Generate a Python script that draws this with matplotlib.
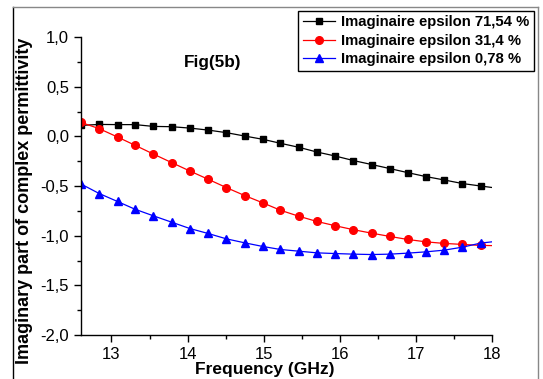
import matplotlib.pyplot as plt
from matplotlib.ticker import MultipleLocator, FuncFormatter
from matplotlib.lines import Line2D

plt.rcParams['font.family'] = ['Liberation Sans', 'DejaVu Sans']

# frequency points (GHz), last one is only the end of the curve
freq = [12.60, 12.84, 13.08, 13.31, 13.55, 13.79, 14.03, 14.27, 14.51, 14.75,
        14.99, 15.22, 15.46, 15.70, 15.94, 16.18, 16.42, 16.66, 16.89, 17.13,
        17.37, 17.61, 17.85, 18.00]

eps_7154 = [0.11, 0.12, 0.118, 0.118, 0.10, 0.097, 0.083, 0.063, 0.037, 0.003,
            -0.03, -0.07, -0.11, -0.158, -0.198, -0.244, -0.284, -0.325, -0.365,
            -0.405, -0.439, -0.475, -0.50, -0.515]
eps_314 = [0.14, 0.077, -0.007, -0.09, -0.178, -0.264, -0.349, -0.432, -0.516,
           -0.596, -0.67, -0.744, -0.804, -0.857, -0.90, -0.94, -0.975, -1.008,
           -1.038, -1.062, -1.078, -1.088, -1.098, -1.10]
eps_078 = [-0.48, -0.576, -0.656, -0.734, -0.80, -0.864, -0.928, -0.978, -1.032,
           -1.072, -1.109, -1.139, -1.156, -1.173, -1.18, -1.186, -1.19, -1.186,
           -1.176, -1.163, -1.146, -1.116, -1.075, -1.062]

labels = ["Imaginaire epsilon 71,54 %", "Imaginaire epsilon 31,4 %",
          "Imaginaire epsilon 0,78 %"]
series = [eps_7154, eps_314, eps_078]
colors = ["black", "red", "blue"]
markers = ["s", "o", "^"]
msizes = [4.5, 5.5, 5.5]

fig = plt.figure(figsize=(5.43, 3.79), dpi=100)
ax = fig.add_axes([81/543, 1-335/379, 411/543, 298/379])

for i in range(3):
    ax.plot(freq, series[i], color=colors[i], linewidth=0.9,
            marker=markers[i], markersize=msizes[i], markevery=slice(0, 23),
            label=labels[i])

ax.set_xlim(12.6, 18)
ax.set_ylim(-2.0, 1.0)
ax.xaxis.set_major_locator(MultipleLocator(1))
ax.xaxis.set_minor_locator(MultipleLocator(0.5))
ax.yaxis.set_major_locator(MultipleLocator(0.5))
ax.yaxis.set_minor_locator(MultipleLocator(0.25))
ax.xaxis.set_major_formatter(FuncFormatter(lambda v, p: "%d" % v))
ax.yaxis.set_major_formatter(FuncFormatter(lambda v, p: ("%.1f" % v).replace(".", ",")))
ax.tick_params(which="major", direction="out", length=5, width=1, labelsize=12)
ax.tick_params(which="minor", direction="out", length=3, width=1)

for s in ["top", "right"]:
    ax.spines[s].set_visible(False)
for s in ["left", "bottom"]:
    ax.spines[s].set_linewidth(1)

ax.set_xlabel("Frequency (GHz)", fontsize=12.5, fontweight="bold")
ax.set_ylabel("Imaginary part of complex permittivity", fontsize=13, fontweight="bold")
ax.xaxis.set_label_coords((265-81)/411, -(362-335)/298)
ax.yaxis.set_label_coords(-(81-33)/411, (335-201)/298)

ax.text((213-81)/411, (335-62)/298, "Fig(5b)", transform=ax.transAxes,
        ha="center", va="center", fontsize=12.3, fontweight="bold")

leg = ax.legend(loc="upper right", bbox_to_anchor=(534/543, 1-11/379),
                bbox_transform=fig.transFigure, borderaxespad=0, fancybox=False,
                framealpha=1, edgecolor="black", prop={"weight": "bold", "size": 10.7},
                handlelength=2.2, handletextpad=0.4, borderpad=0.3, labelspacing=0.3)
leg.get_frame().set_linewidth(1)

# outer frame of the picture
fig.add_artist(Line2D([13/543, 13/543], [0, 1-7/379], transform=fig.transFigure,
                      color="black", linewidth=1))
fig.add_artist(Line2D([13/543, 538/543], [1-7/379, 1-7/379], transform=fig.transFigure,
                      color="#888888", linewidth=1))
fig.add_artist(Line2D([538/543, 538/543], [0, 1-7/379], transform=fig.transFigure,
                      color="#888888", linewidth=1))

fig.savefig("out.png", dpi=100)
